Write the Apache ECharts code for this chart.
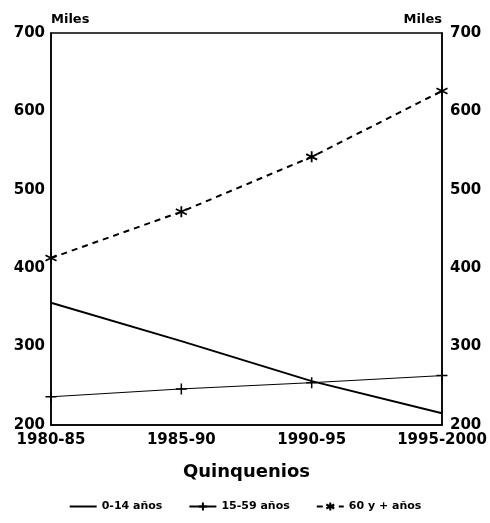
<!DOCTYPE html>
<html>
<head>
<meta charset="utf-8">
<script src="https://cdn.jsdelivr.net/npm/echarts@6/dist/echarts.min.js"></script>
<style>
html,body{margin:0;padding:0;background:#fff;}
#main{width:490px;height:523px;}
</style>
</head>
<body>
<div id="main"></div>
<script>
var periodos = ['1980-85', '1985-90', '1990-95', '1995-2000'];
var edad0a14 = [356, 307, 256, 215];   // 0-14 años
var edad15a59 = [236, 246, 254, 263];  // 15-59 años
var edad60mas = [413, 472, 542, 626];  // 60 y + años

var fuente = 'DejaVu Sans';
var plus = 'path://M0,-5L0,5M-5,0L5,0';
var aster = 'path://M0,-5L0,5M-4.3,-2.5L4.3,2.5M-4.3,2.5L4.3,-2.5';

var ejeY = function(pos){
	return {
		type: 'value',
		position: pos,
		min: 200,
		max: 700,
		interval: 100,
		name: 'Miles',
		nameLocation: 'end',
		nameGap: 7,
		nameTextStyle: {
			color: '#000', fontFamily: fuente, fontWeight: 'bold', fontSize: 13,
			align: pos == 'left' ? 'left' : 'right'
		},
		axisLine: {show: true, lineStyle: {color: '#000', width: 1.5}},
		axisTick: {show: false},
		splitLine: {show: false},
		axisLabel: {color: '#000', fontFamily: fuente, fontWeight: 'bold', fontSize: 15, margin: pos == 'left' ? 6 : 8}
	};
};

var option = {
	backgroundColor: '#fff',
	animation: false,
	grid: {
		top: 33,
		left: 51,
		right: 48,
		bottom: 98,
		show: true,
		borderColor: '#000',
		borderWidth: 1.5
	},
	legend: {
		bottom: 5,
		left: 'center',
		itemWidth: 27,
		itemHeight: 10,
		itemGap: 26,
		textStyle: {color: '#000', fontFamily: fuente, fontWeight: 'bold', fontSize: 11},
		data: [
			{name: '0-14 años', itemStyle: {opacity: 0}},
			'15-59 años',
			'60 y + años'
		]
	},
	xAxis: {
		type: 'category',
		data: periodos,
		boundaryGap: false,
		name: 'Quinquenios',
		nameLocation: 'middle',
		nameGap: 38,
		nameTextStyle: {color: '#000', fontFamily: fuente, fontWeight: 'bold', fontSize: 18},
		axisLine: {lineStyle: {color: '#000', width: 1.5}},
		axisTick: {show: false},
		axisLabel: {color: '#000', fontFamily: fuente, fontWeight: 'bold', fontSize: 15, margin: 8, interval: 0}
	},
	yAxis: [ejeY('left'), ejeY('right')],
	series: [
		{
			name: '0-14 años',
			type: 'line',
			data: edad0a14,
			symbol: 'none',
			lineStyle: {color: '#000', width: 2},
			itemStyle: {color: '#000'}
		},
		{
			name: '15-59 años',
			type: 'line',
			data: edad15a59,
			symbol: plus,
			symbolSize: 11,
			lineStyle: {color: '#000', width: 1},
			itemStyle: {color: 'none', borderColor: '#000', borderWidth: 1.5}
		},
		{
			name: '60 y + años',
			type: 'line',
			data: edad60mas,
			symbol: aster,
			symbolSize: 11,
			lineStyle: {color: '#000', width: 2, type: [6, 5]},
			itemStyle: {color: 'none', borderColor: '#000', borderWidth: 1.8}
		}
	]
};

var myChart = echarts.init(document.getElementById('main'));
myChart.setOption(option);
</script>
</body>
</html>
